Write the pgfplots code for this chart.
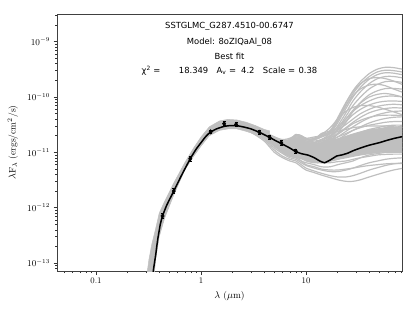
\documentclass[border=0pt]{standalone}
\usepackage{pgfplots}
\pgfplotsset{compat=1.18}
\usepackage{pgfplotstable}
\usepackage{fontspec}
\newfontfamily\dejavu{DejaVu Sans}
\definecolor{mgray}{RGB}{191,191,191}

% far-IR model curves, lambda F_lambda in units of 1e-12 erg/cm2/s
\pgfplotstableread{
x  H1 H2 H3 H4 H5 H6 H7 H8 H9 H10 M1 M2 M3 M4 M5 M6 M7 M8 M9 M10 L1 L2 L3 L4 L5 L6 L7 L8 N1 N2 N3 N4 N5 N6
3  28 28 27 27 27 26 26 26 26 27  27 27 26 26 27 26 26 27 26 27  26 25 25 24 24 23 25 26  27 26 27 26 25 24
4  23 23 22 22 22 21 21 21 20 22  22 21 21 21 22 21 20 21 20 22  20 19 19 18 17 16 19 20  22 21 22 21 19 18
5  19 19 18 18 17 17 17 16 16 18  18 17 17 16 18 17 16 17 15 18  15 14 13 12 11 10 14 15  18 17 18 16 14 13
6  17 16 15 16 15 14 15 14 13 16  16 15 14 14 16 15 13 14 12 16  12 11 10 9.5 8.5 8 11 12  16 15 16 14 11 10
7  18 17 15 16 15 14 15 13 13 17  16 15 14 13 16 14 12 13 11 17  10 9 8.5 8 7.5 7 9.5 11  16 14 17 13 9.5 8.5
8  20 21 18 19 17 16 17 15 14 20  19 17 16 15 18 16 13 14 12 21  10 9 8 7.5 7 6.5 9.5 11  18 16 20 15 9.5 8
9  19 20 17 18 16 15 17 14 13 19  18 16 15 14 17 15 12 13 11 20  9 8 7 6.5 6 5.5 8.5 10  17 15 19 14 8.5 7
10 17 18 15 16 14 13 16 12 12 17  16 14 13 12 15 13 11 12 10 18  8 7 6.5 5.8 5.2 4.8 7.5 9  15 13 17 12 7.5 6
12 18 17 15 17 14 13 17 12 12 17  16 14 13 12 15 13 11 11 9.5 19  7.5 6.5 6 5.2 4.6 4.3 7 8.5  15 13 18 12 7 5.5
14 21 19 17 22 16 15 20 13 14 19  17 15 14 13 16 13 11 11 9.5 20  7.5 6.5 5.5 4.8 4.2 3.9 6.8 8.5  17 14 21 12 6.5 5
17 24 23 22 25 20 19 24 16 18 22  20 18 16 15 17 14 12 12 10 22  8 7 5.5 4.5 3.8 3.5 7 9  20 17 28 13 6.5 4.8
20 40 37 34 42 30 27 38 22 25 29  25 22 19 17 19 16 14 13 11 24  9 7.5 6 4.5 3.6 3.2 7.5 10  26 21 40 14 6.8 4.8
24 78 70 62 80 52 45 70 35 40 40  32 28 24 21 22 18 16 15 13 26  10 8.5 6.5 4.8 3.6 3.0 8 11  36 27 55 15 7 5
28 130 115 100 125 85 70 105 55 58 55  40 35 29 25 25 20 18 17 15 28  11 9.5 7 5.2 3.8 3.0 8.5 12.5  48 33 65 16 7.5 5.2
33 190 170 150 175 125 100 140 80 78 70  50 43 35 29 28 23 21 19 17 29  12 10.5 8 5.8 4.2 3.2 9 14  60 38 70 17 8 5.5
40 265 235 210 215 175 140 165 110 100 85  60 52 42 34 31 26 24 21 19 30  13 11.5 9 6.5 4.8 3.6 9.5 16  72 43 70 18 8.5 5.8
48 320 285 255 225 215 170 170 130 112 97  68 58 48 38 33 28 26 23 21 30  14 12 9.5 7 5.3 4.0 10 17  80 46 66 19 9 6
57 345 305 275 215 235 190 160 142 116 103  72 62 52 41 35 30 28 24 22 30  15 12.5 10 7.5 5.8 4.4 10.5 18  84 47 60 20 9.2 6.2
68 340 300 270 195 235 192 140 143 110 104  74 64 55 43 36 31 28 25 23 29  15 12.5 10 7.8 6.2 4.8 10.5 18.5  85 47 54 20 9.3 6.3
85 315 280 250 165 220 183 120 138 99 100  72 63 56 44 36 31 28 25 23 28  15 12 10 8 6.5 5.2 10.5 18.5  83 46 47 20 9.3 6.3
}\fartab

\pgfplotstableread{
x y e
0.43 7.1e-13 0.1
0.55 2.0e-12 0.1
0.79 7.7e-12 0.1
1.235 2.35e-11 0.08
1.66 3.3e-11 0.08
2.16 3.2e-11 0.08
3.6 2.3e-11 0.1
4.5 1.87e-11 0.1
5.8 1.5e-11 0.1
8.0 1.05e-11 0.1
}\obstab

\begin{document}
\begin{tikzpicture}
\useasboundingbox (0,0) rectangle (415bp,312bp);
\begin{axis}[
  at={(57bp,41bp)}, anchor=south west,
  scale only axis, width=345bp, height=257bp,
  xmode=log, ymode=log,
  xmin=0.0425, xmax=82, ymin=7.2e-14, ymax=3.16e-9,
  xtick={0.1,1,10}, xticklabels={0.1,1,10},
  minor xtick={0.05,0.06,0.07,0.08,0.09,0.2,0.3,0.4,0.5,0.6,0.7,0.8,0.9,2,3,4,5,6,7,8,9,20,30,40,50,60,70,80},
  ytick={1e-13,1e-12,1e-11,1e-10,1e-9},
  minor ytick={8e-14,9e-14,2e-13,3e-13,4e-13,5e-13,6e-13,7e-13,8e-13,9e-13,2e-12,3e-12,4e-12,5e-12,6e-12,7e-12,8e-12,9e-12,2e-11,3e-11,4e-11,5e-11,6e-11,7e-11,8e-11,9e-11,2e-10,3e-10,4e-10,5e-10,6e-10,7e-10,8e-10,9e-10,2e-9,3e-9},
  tick align=outside, tick pos=left,
  major tick length=3.5bp, minor tick length=2bp,
  tick style={black!80, line width=0.5bp},
  axis line style={black!75, line width=0.7bp},
  tick label style={font=\fontsize{8.5bp}{10bp}\selectfont},
  xlabel={$\lambda$ ($\mu$m)},
  ylabel={$\lambda\mathrm{F}_\lambda$ (ergs/cm$^2$/s)},
  label style={font=\fontsize{9.5bp}{11bp}\selectfont},
  xlabel style={at={(axis description cs:0.5,-0.097)}, anchor=center},
  ylabel style={at={(axis description cs:-0.128,0.5)}, anchor=center},
]
% near-IR band of all models
\addplot[fill=mgray, draw=mgray, line width=0.5bp] coordinates {
(0.30,5e-14) (0.32,1.2e-13) (0.34,2.2e-13) (0.37,4.2e-13) (0.40,8e-13) (0.45,1.3e-12)
(0.55,2.8e-12) (0.7,6.5e-12) (0.85,1.2e-11) (1.0,1.9e-11) (1.2,2.9e-11) (1.5,3.7e-11)
(1.8,3.95e-11) (2.2,3.85e-11) (2.7,3.5e-11) (3.3,3.05e-11) (4,2.6e-11) (4.5,2.45e-11)
(4.5,1.5e-11) (4,1.8e-11) (3.3,2.1e-11) (2.7,2.4e-11) (2.2,2.65e-11) (1.8,2.65e-11)
(1.5,2.5e-11) (1.2,2.0e-11) (1.0,1.3e-11) (0.85,8.5e-12) (0.7,4.8e-12) (0.55,1.7e-12)
(0.45,6.5e-13) (0.40,3.0e-13) (0.37,1.2e-13) (0.355,5e-14)
};
% dense mid/far-IR region where many models overlap
\addplot[fill=mgray, draw=none, smooth] coordinates {
(4,1.8e-11) (5,1.3e-11) (6,1.0e-11) (7,8.5e-12) (8,8e-12) (10,7e-12) (12,6.5e-12)
(14,6.5e-12) (17,7e-12) (20,7.5e-12) (24,8e-12) (28,8.5e-12) (33,9e-12) (40,9.5e-12)
(57,1.0e-11) (90,1.05e-11)
(90,2.8e-11) (57,2.8e-11) (40,2.6e-11) (33,2.4e-11) (28,2.2e-11) (24,2.0e-11) (20,1.8e-11)
(17,1.65e-11) (14,1.5e-11) (12,1.5e-11) (10,1.55e-11) (9,1.75e-11) (8,1.85e-11) (7,1.6e-11)
(6,1.5e-11) (5,1.75e-11) (4,2.3e-11)
};
% individual model curves
\foreach \c in {H1,H2,H3,H4,H5,H6,H7,H8,H9,H10,M1,M2,M3,M4,M5,M6,M7,M8,M9,M10,L1,L2,L3,L4,L5,L6,L7,L8,N1,N2,N3,N4,N5,N6}{
  \addplot[mgray, line width=1.2bp, smooth] table[x=x, y expr=\thisrow{\c}*1e-12] {\fartab};
}
% best fit
\addplot[black, line width=1.5bp, smooth, tension=0.3] coordinates {
(0.345,5e-14) (0.352,7.5e-14) (0.36,1.0e-13) (0.37,1.4e-13) (0.38,2.1e-13) (0.39,2.95e-13)
(0.40,3.9e-13) (0.41,5.1e-13) (0.43,7.1e-13) (0.47,1.1e-12) (0.55,2.0e-12) (0.65,3.8e-12)
(0.79,7.7e-12) (0.9,1.15e-11) (1.0,1.5e-11) (1.1,1.9e-11) (1.22,2.3e-11) (1.4,2.65e-11)
(1.66,2.95e-11) (1.9,3.05e-11) (2.17,3.05e-11) (2.6,2.85e-11) (3.0,2.65e-11) (3.6,2.3e-11)
(4.5,1.87e-11) (5.0,1.67e-11) (5.8,1.45e-11) (7,1.2e-11) (8,1.03e-11) (9,9.5e-12)
(10.5,8.9e-12) (12,8.0e-12) (13.5,7.0e-12) (15,6.5e-12) (17,7.3e-12) (19.6,8.6e-12)
(22,9.0e-12) (25,9.7e-12) (28,1.07e-11) (33,1.2e-11) (40,1.35e-11) (50,1.5e-11)
(59,1.65e-11) (70,1.8e-11) (85,1.95e-11)
};
% observed fluxes
\addplot[only marks, mark=diamond*, mark size=2.3bp, black,
  error bars/.cd, y dir=both, y explicit relative,
  error bar style={line width=0.8bp, black},
  error mark options={rotate=90, mark size=1.6bp, line width=0.8bp}]
  table[x=x, y=y, y error=e] {\obstab};

\node[font=\dejavu\fontsize{8.4bp}{10bp}\selectfont] at (axis description cs:0.5,0.953) {SSTGLMC\_G287.4510-00.6747};
\node[font=\dejavu\fontsize{8.4bp}{10bp}\selectfont] at (axis description cs:0.5,0.891) {Model: 8oZIQaAl\_08};
\node[font=\dejavu\fontsize{8.4bp}{10bp}\selectfont] at (axis description cs:0.5,0.835) {Best fit};
\node[font=\dejavu\fontsize{8.4bp}{10bp}\selectfont] at (axis description cs:0.5,0.778) {χ\textsuperscript{2} =\hspace{2.2em}18.349\hspace{1em}A\textsubscript{v} =\hspace{0.6em}4.2\hspace{1em}Scale =\hspace{0.4em}0.38};
\end{axis}
\end{tikzpicture}
\end{document}
